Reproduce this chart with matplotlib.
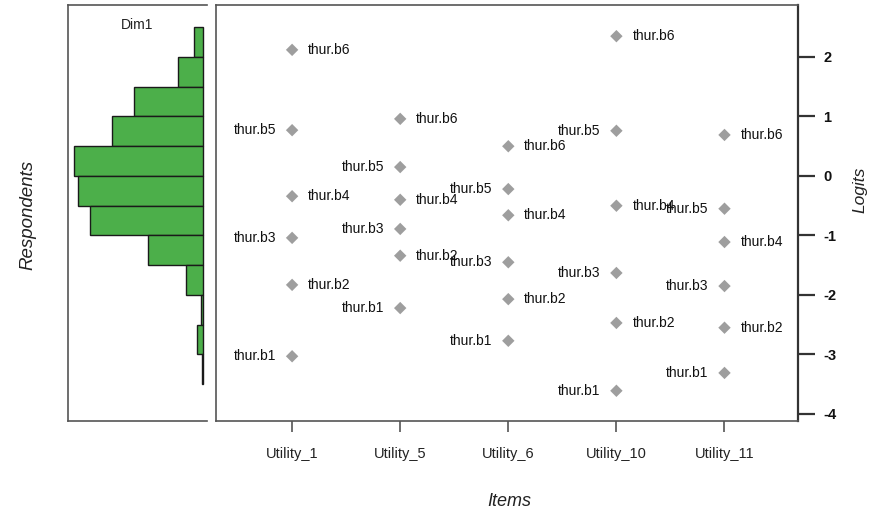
import matplotlib
matplotlib.use("Agg")
import matplotlib.pyplot as plt

plt.rcParams['font.family'] = ['Liberation Sans', 'DejaVu Sans']

# item columns and step thresholds (logits), b1..b6
items = ["Utility_1", "Utility_5", "Utility_6", "Utility_10", "Utility_11"]
step_names = ["thur.b1", "thur.b2", "thur.b3", "thur.b4", "thur.b5", "thur.b6"]
thresholds = [
    [-3.03, -1.83, -1.04, -0.34, 0.77, 2.12],
    [-2.22, -1.34, -0.89, -0.40, 0.15, 0.96],
    [-2.77, -2.07, -1.45, -0.66, -0.22, 0.50],
    [-3.61, -2.47, -1.63, -0.50, 0.76, 2.35],
    [-3.31, -2.55, -1.85, -1.11, -0.55, 0.69],
]

# respondent distribution (bin lower edges, bin width 0.5, relative counts)
bin_lower = [2.0, 1.5, 1.0, 0.5, 0.0, -0.5, -1.0, -1.5, -2.0, -2.5, -3.0, -3.5]
bin_counts = [9, 25, 69, 91, 129, 125, 113, 55, 17, 2, 6, 1]
bin_width = 0.5

logit_ticks = [2, 1, 0, -1, -2, -3, -4]

W, H = 876, 514
fig = plt.figure(figsize=(W / 100, H / 100), dpi=100)

def box(x0, x1, y0, y1):
    return [x0 / W, 1 - y1 / H, (x1 - x0) / W, (y1 - y0) / H]

ylim = (-4.118, 2.874)
spine_col = "#555555"

# respondents histogram
ax_h = fig.add_axes(box(68, 207, 5, 421))
ax_h.barh(bin_lower, bin_counts, height=bin_width, align="edge", left=0,
          color="#4caf4a", edgecolor="#1a1a1a", linewidth=1.0)
ax_h.set_xlim(135, -4)
ax_h.set_ylim(*ylim)
ax_h.set_xticks([])
ax_h.set_yticks([])
ax_h.spines["right"].set_visible(False)
for s in ["left", "top", "bottom"]:
    ax_h.spines[s].set_color(spine_col)
    ax_h.spines[s].set_linewidth(1.2)
ax_h.text(0.5, 0.953, "Dim1", transform=ax_h.transAxes, ha="center", va="center",
          fontsize=10, color="#222222")

# item thresholds panel
ax = fig.add_axes(box(216, 798, 5, 421))
xs = list(range(1, len(items) + 1))
for x, vals in zip(xs, thresholds):
    ax.scatter([x] * len(vals), vals, marker="D", s=40, color="#9e9e9e",
               edgecolor="none", zorder=3)
    for k, (name, v) in enumerate(zip(step_names, vals)):
        if k % 2 == 0:
            ax.annotate(name, (x, v), xytext=(-11.5, 0), textcoords="offset points",
                        ha="right", va="center", fontsize=10, color="#111111")
        else:
            ax.annotate(name, (x, v), xytext=(11.5, 0), textcoords="offset points",
                        ha="left", va="center", fontsize=10, color="#111111")

ax.set_xlim(0.296, 5.68)
ax.set_ylim(*ylim)
ax.set_xticks(xs)
ax.set_xticklabels(items, fontsize=10.5, color="#222222")
ax.tick_params(axis="x", direction="out", length=8, width=1.2, pad=11, colors=spine_col,
               labelcolor="#222222")
ax.yaxis.tick_right()
ax.set_yticks(logit_ticks)
ax.set_yticklabels([str(t) for t in logit_ticks], fontsize=10.5, fontweight="bold",
                   color="#111111")
ax.tick_params(axis="y", direction="out", length=12, width=1.6, pad=6, colors="#333333",
               labelcolor="#111111")
for s in ax.spines.values():
    s.set_color(spine_col)
    s.set_linewidth(1.2)
ax.spines["right"].set_color("#333333")
ax.spines["right"].set_linewidth(1.6)

# axis titles
fig.text(28 / W, 1 - 215 / H, "Respondents", rotation=90, ha="center", va="center",
         fontsize=13.5, style="italic", color="#222222")
fig.text(860 / W, 1 - 190 / H, "Logits", rotation=90, ha="center", va="center",
         fontsize=12.5, style="italic", color="#222222")
fig.text(509 / W, 1 - 501 / H, "Items", ha="center", va="center",
         fontsize=13, style="italic", color="#222222")

fig.savefig("out.png", dpi=100)
